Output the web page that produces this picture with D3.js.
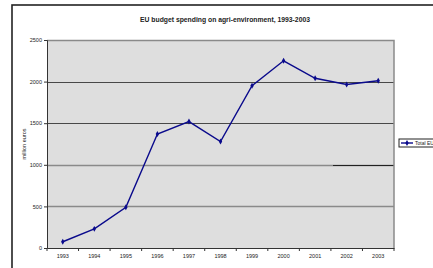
<!DOCTYPE html>
<html>
<head>
<meta charset="utf-8">
<script src="https://cdn.jsdelivr.net/npm/d3@7"></script>
<style>
body { margin: 0; background: #fff; }
text { font-family: "Liberation Sans", Arial, sans-serif; }
</style>
</head>
<body>
<script>
//chart data
var years = ["1993","1994","1995","1996","1997","1998","1999","2000","2001","2002","2003"];
var spending = [75, 230, 490, 1370, 1520, 1280, 1950, 2250, 2040, 1965, 2010];
var yTicks = [0, 500, 1000, 1500, 2000, 2500];
var seriesName = "Total EU";

var width = 433,
    height = 268;

var svg = d3.select("body")
    .append("svg")
    .attr("width", width)
    .attr("height", height);

//outer chart frame (runs off the right and bottom)
svg.append("rect")
    .attr("x", 12).attr("y", 5)
    .attr("width", 440).attr("height", 280)
    .attr("fill", "#fff")
    .attr("stroke", "#222")
    .attr("stroke-width", 1.6);

var plot = {left: 47, top: 40, right: 394, bottom: 248};

var x = d3.scaleBand()
    .domain(years)
    .range([plot.left, plot.right]);

var y = d3.scaleLinear()
    .domain([0, 2500])
    .range([plot.bottom, plot.top]);

//plot area
svg.append("rect")
    .attr("x", plot.left).attr("y", plot.top)
    .attr("width", plot.right - plot.left)
    .attr("height", plot.bottom - plot.top)
    .attr("fill", "#dedede");

//gridlines
svg.selectAll(".grid")
    .data(yTicks.filter(function(d){ return d > 0 && d < 2500; }))
    .enter()
    .append("line")
    .attr("class", "grid")
    .attr("x1", plot.left).attr("x2", plot.right)
    .attr("y1", function(d){ return Math.round(y(d)) + 0.5; })
    .attr("y2", function(d){ return Math.round(y(d)) + 0.5; })
    .attr("stroke", function(d){ return d >= 1500 ? "#222" : "#8a8a8a"; })
    .attr("stroke-width", function(d){ return d >= 1500 ? 0.8 : 1.3; });

//dark piece on the 1000 line
svg.append("line")
    .attr("x1", 333).attr("x2", plot.right)
    .attr("y1", Math.round(y(1000)) + 0.5).attr("y2", Math.round(y(1000)) + 0.5)
    .attr("stroke", "#222").attr("stroke-width", 1);

//plot border top/right
svg.append("path")
    .attr("d", "M" + plot.left + "," + (plot.top + 0.5) + "H" + (plot.right) + "V" + plot.bottom)
    .attr("fill", "none")
    .attr("stroke", "#8a8a8a")
    .attr("stroke-width", 1.5);

//axes
var yAxis = d3.axisLeft(y)
    .tickValues(yTicks)
    .tickFormat(d3.format("d"))
    .tickSize(3)
    .tickPadding(2);

svg.append("g")
    .attr("transform", "translate(" + plot.left + ",0)")
    .call(yAxis)
    .call(function(g){
        g.selectAll("path, line").attr("stroke", "#333");
        g.selectAll("text").attr("font-size", 5.5).attr("fill", "#222");
    });

var xAxis = d3.axisBottom(x).tickSize(0).tickPadding(6);

var xg = svg.append("g")
    .attr("transform", "translate(0," + plot.bottom + ")")
    .call(xAxis)
    .call(function(g){
        g.select(".domain").attr("stroke", "#333");
        g.selectAll("text").attr("font-size", 5.5).attr("fill", "#222");
    });

//ticks between categories
xg.selectAll(".sep")
    .data(years.concat(["end"]))
    .enter()
    .append("line")
    .attr("class", "sep")
    .attr("x1", function(d, i){ return plot.left + i * x.step(); })
    .attr("x2", function(d, i){ return plot.left + i * x.step(); })
    .attr("y1", 0).attr("y2", 3)
    .attr("stroke", "#333");

//series line
var line = d3.line()
    .x(function(d, i){ return x(years[i]) + x.bandwidth() / 2; })
    .y(function(d){ return y(d); });

svg.append("path")
    .datum(spending)
    .attr("d", line)
    .attr("fill", "none")
    .attr("stroke", "#0a0a8c")
    .attr("stroke-width", 1.4);

svg.selectAll(".pt")
    .data(spending)
    .enter()
    .append("path")
    .attr("class", "pt")
    .attr("transform", function(d, i){
        return "translate(" + (x(years[i]) + x.bandwidth() / 2) + "," + y(d) + ")";
    })
    .attr("d", d3.symbol().type(d3.symbolDiamond).size(10))
    .attr("fill", "#0a0a8c");

//title
svg.append("text")
    .attr("x", 225).attr("y", 22)
    .attr("text-anchor", "middle")
    .attr("font-size", 6.8)
    .attr("font-weight", "bold")
    .attr("fill", "#222")
    .text("EU budget spending on agri-environment, 1993-2003");

//y axis title
svg.append("text")
    .attr("transform", "translate(26,144) rotate(-90)")
    .attr("text-anchor", "middle")
    .attr("font-size", 5.5)
    .attr("fill", "#222")
    .text("million euros");

//legend
var legend = svg.append("g").attr("transform", "translate(399,139)");
legend.append("rect")
    .attr("width", 45).attr("height", 8)
    .attr("fill", "#fff")
    .attr("stroke", "#222")
    .attr("stroke-width", 1);
legend.append("line")
    .attr("x1", 2).attr("x2", 14).attr("y1", 4).attr("y2", 4)
    .attr("stroke", "#0a0a8c").attr("stroke-width", 1.4);
legend.append("path")
    .attr("transform", "translate(8,4)")
    .attr("d", d3.symbol().type(d3.symbolDiamond).size(10))
    .attr("fill", "#0a0a8c");
legend.append("text")
    .attr("x", 16).attr("y", 6)
    .attr("font-size", 5)
    .attr("fill", "#222")
    .text(seriesName);
</script>
</body>
</html>
